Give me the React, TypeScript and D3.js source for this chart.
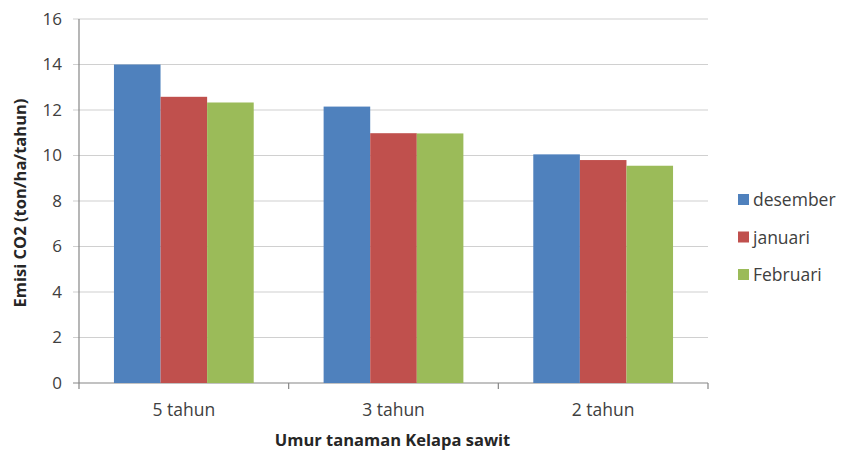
import React from "react";
import * as d3 from "d3";

const categories = ["5 tahun", "3 tahun", "2 tahun"];
const seriesNames = ["desember", "januari", "Februari"];
const desember = [14.0, 12.15, 10.05];
const januari = [12.58, 10.98, 9.8];
const februari = [12.33, 10.97, 9.55];
const yTicks = [0, 2, 4, 6, 8, 10, 12, 14, 16];
const colors = ["#4f81bd", "#c0504d", "#9bbb59"];

const seriesValues = [desember, januari, februari];

export default function App() {
  const W = 842, H = 454;
  const left = 79, right = 708, top = 19, bottom = 383;
  const font = "'Open Sans', 'Liberation Sans', sans-serif";
  const y = d3.scaleLinear().domain([0, 16]).range([bottom, top]);
  const x0 = d3.scaleBand().domain(categories).range([left, right]).paddingInner(0).paddingOuter(0);
  const bw = x0.bandwidth();
  const x1 = d3.scaleBand().domain(seriesNames).range([bw * 0.1667, bw * 0.8333]);
  const sepXs = [0, 1, 2, 3].map((i) => left + i * bw);

  return (
    <svg width={W} height={H} style={{ position: "absolute", left: 0, top: 0, background: "#fff" }} fontFamily={font}>
      {yTicks.map((t) => (
        <g key={t}>
          <line x1={left - 6} x2={right} y1={y(t)} y2={y(t)} stroke={t === 0 ? "#868686" : "#d0d0d0"} strokeWidth={1.2} />
          <text x={62} y={y(t)} dy="0.35em" textAnchor="end" fontSize={17} fill="#404040">{t}</text>
        </g>
      ))}
      <line x1={left} x2={left} y1={top} y2={bottom} stroke="#868686" strokeWidth={1.2} />
      {sepXs.map((sx, i) => (
        <line key={i} x1={sx} x2={sx} y1={bottom} y2={bottom + 6} stroke="#868686" strokeWidth={1.2} />
      ))}
      {categories.map((c, ci) => (
        <g key={c} transform={`translate(${x0(c)},0)`}>
          {seriesNames.map((s, si) => {
            const v = seriesValues[si][ci];
            return (
              <rect key={s} x={x1(s)} y={y(v)} width={x1.bandwidth()} height={bottom - y(v)} fill={colors[si]} />
            );
          })}
          <text x={bw / 2} y={410} dy="0.35em" textAnchor="middle" fontSize={17.5} fill="#404040">{c}</text>
        </g>
      ))}
      <text x={(left + right) / 2 - 1} y={440} dy="0.35em" textAnchor="middle" fontSize={16.5} fontWeight="bold" fill="#262626">Umur tanaman Kelapa sawit</text>
      <text transform={`translate(20,${(top + bottom) / 2 + 2}) rotate(-90)`} textAnchor="middle" dy="0.35em" fontSize={16.5} fontWeight="bold" fill="#262626">Emisi CO2 (ton/ha/tahun)</text>
      {seriesNames.map((s, i) => (
        <g key={s} transform={`translate(738,${200 + i * 37.5})`}>
          <rect x={0} y={-6} width={11} height={11} fill={colors[i]} />
          <text x={15} y={0} dy="0.35em" fontSize={17.5} fill="#404040">{s}</text>
        </g>
      ))}
    </svg>
  );
}
